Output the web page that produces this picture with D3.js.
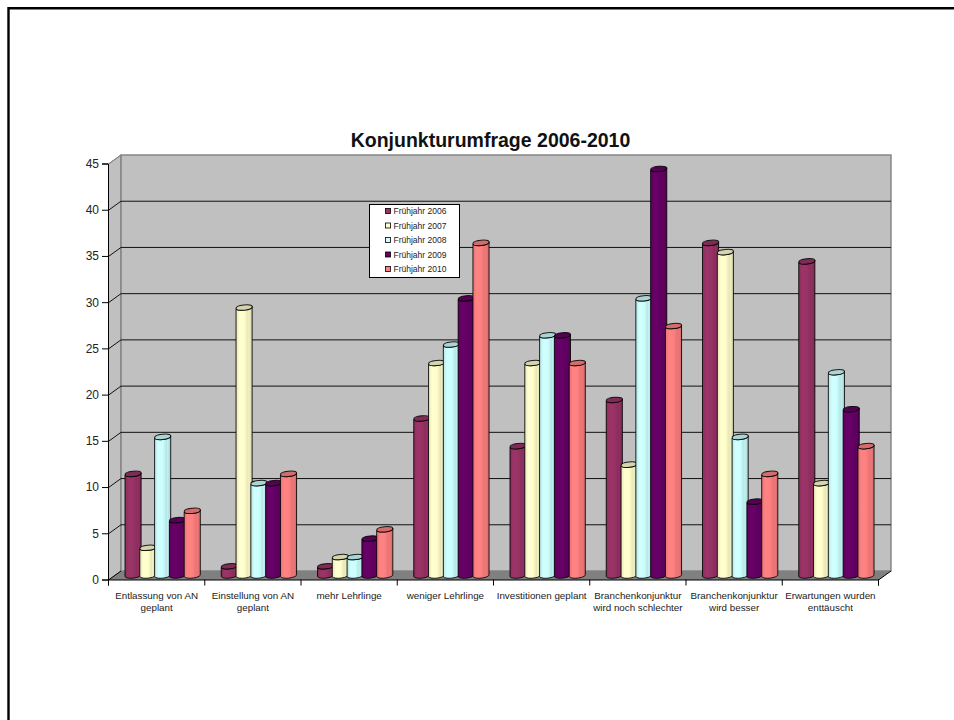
<!DOCTYPE html>
<html><head><meta charset="utf-8">
<script src="https://cdn.jsdelivr.net/npm/d3@7/dist/d3.min.js"></script>
<style>html,body{margin:0;padding:0;background:#fff}svg{display:block}text{font-family:"Liberation Sans",Arial,sans-serif;fill:#111}</style>
</head><body><svg id="c" width="954" height="720"></svg>
<script>
const categories=[["Entlassung von AN","geplant"],["Einstellung von AN","geplant"],["mehr Lehrlinge"],["weniger Lehrlinge"],["Investitionen geplant"],["Branchenkonjunktur","wird noch schlechter"],["Branchenkonjunktur","wird besser"],["Erwartungen wurden","enttäuscht"]];
const seriesNames=["Frühjahr 2006","Frühjahr 2007","Frühjahr 2008","Frühjahr 2009","Frühjahr 2010"];
const fj2006=[11,1,1,17,14,19,36,34];
const fj2007=[3,29,2,23,23,12,35,10];
const fj2008=[15,10,2,25,26,30,15,22];
const fj2009=[6,10,4,30,26,44,8,18];
const fj2010=[7,11,5,36,23,27,11,14];
const seriesValues=[fj2006,fj2007,fj2008,fj2009,fj2010];
const palette=["#993366","#FFFFCC","#CCFFFF","#660066","#FF8080"];
const yTicks=d3.range(0,50,5);

const svg=d3.select("#c");
const L=108.5,R=878.5,DX=12.5,DY=9;
const yFront=d3.scaleLinear([0,45],[580,164]);
const yBack=d3.scaleLinear([0,45],[571,155]);
const yBar=d3.scaleLinear([0,45],[575.5,159.7]);
const xEdge=d3.scaleLinear([0,categories.length],[L,R]);
const x0=d3.scaleBand(d3.range(categories.length),[L+6,R+6]);
const x1=d3.scaleBand(d3.range(seriesNames.length),[10.5,84.5]);

// frame
svg.append("path").attr("d","M8.5,720V8.3H954").attr("fill","none").attr("stroke","#000").attr("stroke-width",2.4);

// defs
const defs=svg.append("defs");
palette.forEach((c,i)=>{
  const base=d3.rgb(c);
  const g=defs.append("linearGradient").attr("id","g"+i);
  [[0,base.darker(.3)],[.22,base.brighter(.06)],[.5,base],[.74,base.darker(.3)],[.78,base.darker(.15)],[1,base.darker(.55)]]
    .forEach(([o,col])=>g.append("stop").attr("offset",o).attr("stop-color",col));
});

// walls
svg.append("path").attr("d",`M${L},${yFront(0)}L${L},${yFront(45)}L${L+DX},${yBack(45)}L${L+DX},${yBack(0)}Z`).attr("fill","#c0c0c0").attr("stroke","#808080");
svg.append("rect").attr("x",L+DX).attr("y",yBack(45)).attr("width",R-L).attr("height",yBack(0)-yBack(45)).attr("fill","#c0c0c0").attr("stroke","#808080").attr("stroke-width",1.4);
svg.append("path").attr("d",`M${L},${yFront(0)}L${L+DX},${yBack(0)}L${R+DX},${yBack(0)}L${R},${yFront(0)}Z`).attr("fill","#808080");

// gridlines
yTicks.filter(t=>t>0&&t<45).forEach(t=>{
  svg.append("path").attr("d",`M${L},${yFront(t)}L${L+DX},${yBack(t)}H${R+DX}`).attr("fill","none").attr("stroke","#111").attr("stroke-width",1);
});
svg.append("path").attr("d",`M${L},${yFront(45)}L${L+DX},${yBack(45)}`).attr("fill","none").attr("stroke","#808080");
svg.append("path").attr("d",`M${R},${yFront(0)}L${R+DX},${yBack(0)}`).attr("fill","none").attr("stroke","#000");
svg.append("path").attr("d",`M${L},${yFront(0)}L${L+DX},${yBack(0)}`).attr("fill","none").attr("stroke","#000");

// cylinders
const ry=2.6,lift=1.2;
seriesValues.forEach((vals,s)=>{
  const top=d3.rgb(palette[s]).darker(.5);
  const gs=svg.append("g");
  vals.forEach((v,c)=>{
    const xa=x0(c)+x1(s), w=x1.bandwidth()+1.3, xb=xa+w, rx=w/2, yt=yBar(v), yb=yBar(0);
    gs.append("path")
      .attr("d",`M${xa},${yt+lift}L${xa},${yb+lift}A${rx},${ry} -6 0 0 ${xb},${yb-lift}L${xb},${yt-lift}A${rx},${ry} -6 0 1 ${xa},${yt+lift}Z`)
      .attr("fill",`url(#g${s})`).attr("stroke","#000").attr("stroke-width",1).attr("stroke-opacity",.85);
    gs.append("ellipse").attr("cx",xa+rx).attr("cy",yt).attr("rx",rx).attr("ry",ry)
      .attr("transform",`rotate(-6 ${xa+rx} ${yt})`)
      .attr("fill",top).attr("stroke","#000").attr("stroke-width",1).attr("stroke-opacity",.85);
  });
});

// axes
const yAxis=d3.axisLeft(yFront).tickValues(yTicks).tickSize(6).tickPadding(3);
const ga=svg.append("g").attr("transform",`translate(${L-.5},-.5)`).call(yAxis);
ga.selectAll("text").attr("font-size",12).attr("font-family",'"Liberation Sans",Arial,sans-serif').style("fill","#222");
ga.selectAll("line,path").attr("stroke","#000");

const xAxis=d3.axisBottom(xEdge).tickValues(d3.range(categories.length+1)).tickSize(6).tickFormat("");
const gx=svg.append("g").attr("transform",`translate(-.5,${yFront(0)-.5})`).call(xAxis);
gx.selectAll("line,path").attr("stroke","#000");

categories.forEach((lines,c)=>{
  const t=svg.append("text").attr("text-anchor","middle").attr("font-size",9.8).style("fill","#222");
  lines.forEach((ln,i)=>t.append("tspan").attr("x",xEdge(c+.5)).attr("y",598.5+i*12).text(ln));
});

// title
svg.append("text").attr("x",490.5).attr("y",147).attr("text-anchor","middle").attr("font-size",19.5).attr("font-weight","bold").text("Konjunkturumfrage 2006-2010");

// legend
const lg=svg.append("g");
lg.append("rect").attr("x",369.5).attr("y",204.5).attr("width",90).attr("height",73).attr("fill","#fff").attr("stroke","#000");
const ly=d3.scalePoint(seriesNames,[211,269]);
seriesNames.forEach((n,i)=>{
  lg.append("rect").attr("x",385.5).attr("y",ly(n)-2.5).attr("width",5).attr("height",5).attr("fill",palette[i]).attr("stroke","#000").attr("stroke-width",.8);
  lg.append("text").attr("x",393.5).attr("y",ly(n)+3).attr("font-size",8.5).style("fill","#222").text(n);
});
</script></body></html>
